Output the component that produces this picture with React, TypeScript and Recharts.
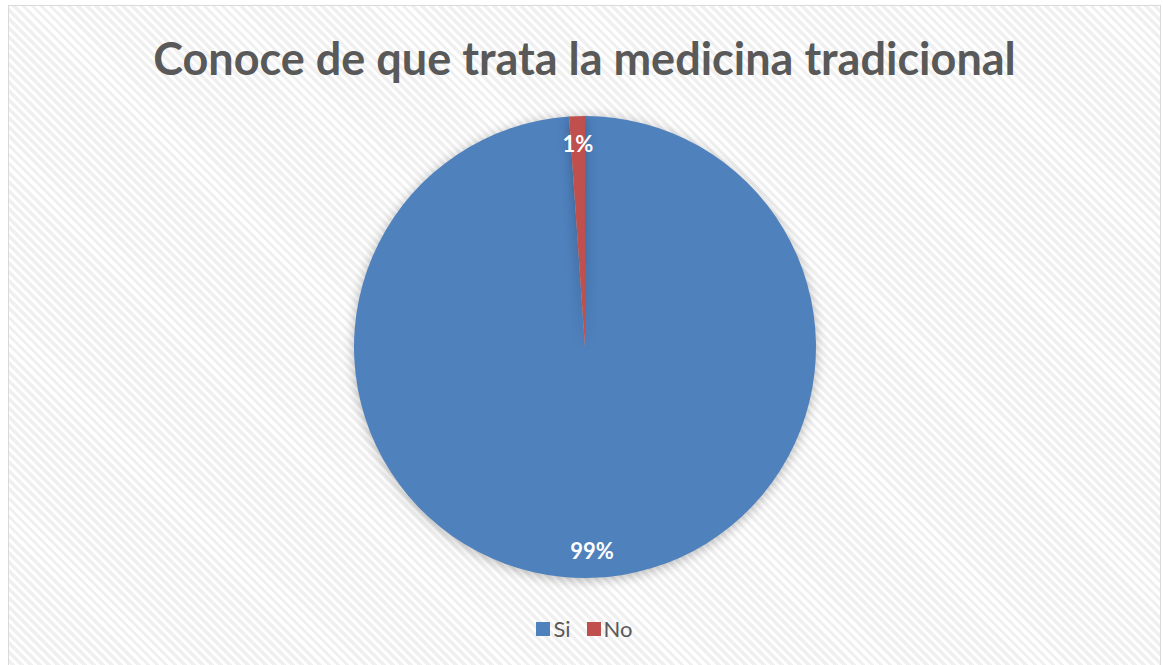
import { PieChart, Pie, Cell, Legend } from "recharts";

const categories = ["Si", "No"];
const values = [98.9, 1.1];
const COLORS = ["#4F81BD", "#C0504D"];

const data = categories.map((name, i) => ({ name, value: values[i] }));

const RADIAN = Math.PI / 180;

function renderLabel(props: any) {
  const { cx, cy, midAngle, outerRadius, percent } = props;
  const r = outerRadius * 0.88;
  const x = cx + r * Math.cos(-midAngle * RADIAN);
  const y = cy + r * Math.sin(-midAngle * RADIAN);
  return (
    <text
      x={x}
      y={y}
      fill="#ffffff"
      textAnchor="middle"
      dominantBaseline="central"
      fontFamily="Lato"
      fontWeight={700}
      fontSize={22}
    >
      {`${Math.round(percent * 100)}%`}
    </text>
  );
}

function LegendContent() {
  return (
    <div style={{ display: "flex", justifyContent: "center", alignItems: "center", fontFamily: "Lato", fontSize: 22, color: "#595959" }}>
      {categories.map((c, i) => (
        <div key={c} style={{ display: "flex", alignItems: "center", marginRight: i === 0 ? 16 : 0 }}>
          <span style={{ width: 14, height: 14, background: COLORS[i], display: "inline-block", marginRight: 3 }} />
          <span>{c}</span>
        </div>
      ))}
    </div>
  );
}

export default function App() {
  return (
    <div
      style={{
        position: "absolute",
        left: 8,
        top: 5,
        width: 1151,
        height: 662,
        border: "1px solid #d9d9d9",
        borderBottom: "none",
        background: "repeating-linear-gradient(45deg, #ffffff 0px, #ffffff 3px, #f0f0f0 3px, #f0f0f0 6.4px)",
        overflow: "hidden",
      }}
    >
      <style>{`body{overflow:hidden} .recharts-pie-sector{filter: drop-shadow(0 2px 6px rgba(0,0,0,0.28));}`}</style>
      <div
        style={{
          position: "absolute",
          top: 25,
          left: 0,
          width: 1151,
          textAlign: "center",
          fontFamily: "Lato",
          fontWeight: 700,
          fontSize: 45,
          color: "#595959",
        }}
      >
        Conoce de que trata la medicina tradicional
      </div>
      <PieChart width={1151} height={660} margin={{ top: 0, right: 0, bottom: 0, left: 0 }}>
        <Pie
          data={data}
          dataKey="value"
          nameKey="name"
          cx={576}
          cy={341}
          outerRadius={231}
          startAngle={90}
          endAngle={-270}
          stroke="none"
          label={renderLabel}
          labelLine={false}
          isAnimationActive={false}
        >
          {data.map((_, i) => (
            <Cell key={i} fill={COLORS[i]} />
          ))}
        </Pie>
        <Legend verticalAlign="bottom" wrapperStyle={{ top: 609, bottom: "auto", left: 0, width: 1151 }} content={<LegendContent />} />
      </PieChart>
    </div>
  );
}
